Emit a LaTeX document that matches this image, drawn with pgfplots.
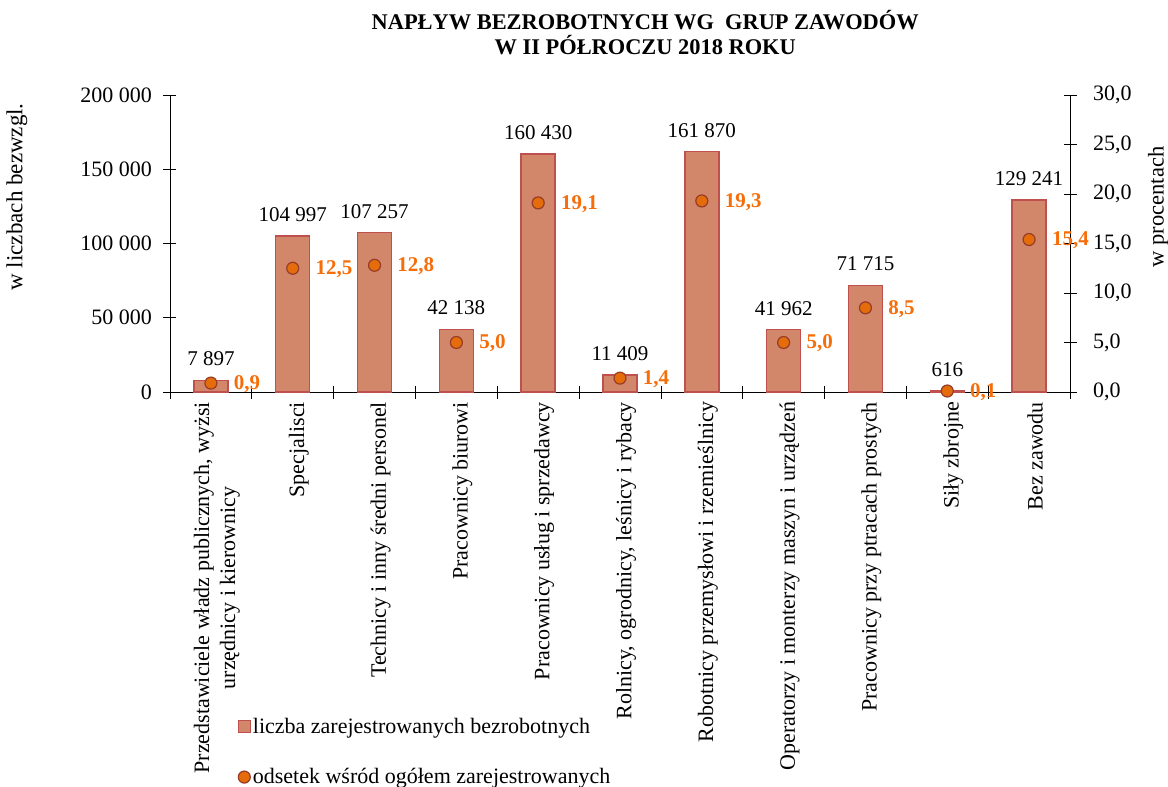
\documentclass[border=0pt]{standalone}
\usepackage{pgfplots}
\pgfplotsset{compat=1.18}
\usepackage{fontspec}
\setmainfont{Liberation Serif}
\definecolor{barfill}{RGB}{211,135,106}
\definecolor{barline}{RGB}{192,80,77}
\definecolor{mkfill}{RGB}{228,108,10}
\definecolor{mkline}{RGB}{150,60,40}
\definecolor{pcttext}{RGB}{245,110,10}
\pgfplotsset{
  sqlegend/.style={legend image code/.code={\draw[fill=barfill, draw=barline, line width=1.2pt] (0pt,-6pt) rectangle (12pt,6pt);}},
  dotlegend/.style={legend image code/.code={\draw[fill=mkfill, draw=mkline, line width=1.2pt] (6pt,0pt) circle (6pt);}},
}
\begin{document}
\begin{tikzpicture}[font=\fontsize{22}{26}\selectfont]
\useasboundingbox (-170pt,-395pt) rectangle (998pt,392pt);
\begin{axis}[
  width=900pt, height=297pt, scale only axis,
  xmin=-0.5, xmax=10.5, ymin=0, ymax=200000,
  axis x line*=bottom, axis y line*=left,
  axis line style={line width=0.8pt},
  scaled y ticks=false,
  ytick={0,50000,100000,150000,200000},
  yticklabels={0,50 000,100 000,150 000,200 000},
  yticklabel style={xshift=-8pt},
  xtick={-0.5,0.5,...,10.5},
  x tick label as interval,
  xticklabels={{Przedstawiciele władz publicznych, wyżsi\\urzędnicy i kierownicy},Specjalisci,Technicy i inny średni personel,Pracownicy biurowi,Pracownicy usług i sprzedawcy,{Rolnicy, ogrodnicy, leśnicy i rybacy},Robotnicy przemysłowi i rzemieślnicy,Operatorzy i monterzy maszyn i urządzeń,Pracownicy przy ptracach prostych,Siły zbrojne,Bez zawodu},
  xticklabel style={rotate=90, anchor=east, align=center, yshift=-6pt},
  tick align=center, major tick length=13pt,
  tick style={line width=0.8pt, black},
  ylabel={w liczbach bezwzgl.},
  ylabel style={at={(axis description cs:-0.17,0.657)}, anchor=center, font=\fontsize{23}{27}\selectfont},
  title={NAPŁYW BEZROBOTNYCH WG\ \ GRUP ZAWODÓW\\W II PÓŁROCZU 2018 ROKU},
  title style={at={(axis description cs:0.528,1)}, anchor=south, yshift=34pt, align=center, font=\fontsize{22.4}{25}\selectfont\bfseries, inner sep=0pt},
  legend style={at={(axis description cs:0.075,-1.09)}, anchor=north west, draw=none, fill=none, row sep=30pt, legend cell align=left, inner sep=0pt},
]
\addlegendimage{sqlegend}
\addlegendentry{liczba zarejestrowanych bezrobotnych}
\addlegendimage{dotlegend}
\addlegendentry{odsetek wśród ogółem zarejestrowanych}
\addplot[ybar, bar width=34pt, fill=barfill, draw=barline, line width=1.5pt, forget plot,
  nodes near coords={\pgfplotspointmeta}, every node near coord/.append style={black, yshift=11pt, line width=0pt, font=\fontsize{21}{25}\selectfont},
  point meta=explicit symbolic]
  coordinates {(0,7897)[7 897] (1,104997)[104 997] (2,107257)[107 257] (3,42138)[42 138] (4,160430)[160 430] (5,11409)[11 409] (6,161870)[161 870] (7,41962)[41 962] (8,71715)[71 715] (9,616)[616] (10,129241)[129 241]};
\end{axis}
\begin{axis}[
  width=900pt, height=297pt, scale only axis,
  xmin=-0.5, xmax=10.5, ymin=0, ymax=30,
  axis x line=none, axis y line*=right,
  axis line style={line width=0.8pt},
  ytick={0,5,...,30},
  yticklabels={{0,0},{5,0},{10,0},{15,0},{20,0},{25,0},{30,0}},
  yticklabel style={xshift=13pt},
  tick align=center, major tick length=13pt,
  tick style={line width=0.8pt, black},
  ylabel={w procentach},
  ylabel style={at={(axis description cs:1.098,0.623)}, anchor=center, font=\fontsize{22.5}{27}\selectfont},
]
\addplot[only marks, mark=*, mark size=6pt, mark options={fill=mkfill, draw=mkline, line width=1.2pt},
  nodes near coords={\pgfplotspointmeta}, every node near coord/.append style={anchor=west, xshift=19pt, yshift=-1pt, text=pcttext, font=\fontsize{21}{25}\selectfont\bfseries},
  point meta=explicit symbolic]
  coordinates {(0,0.9)[0,9] (1,12.5)[12,5] (2,12.8)[12,8] (3,5.0)[5,0] (4,19.1)[19,1] (5,1.4)[1,4] (6,19.3)[19,3] (7,5.0)[5,0] (8,8.5)[8,5] (9,0.1)[0,1] (10,15.4)[15,4]};
\end{axis}
\end{tikzpicture}
\end{document}
